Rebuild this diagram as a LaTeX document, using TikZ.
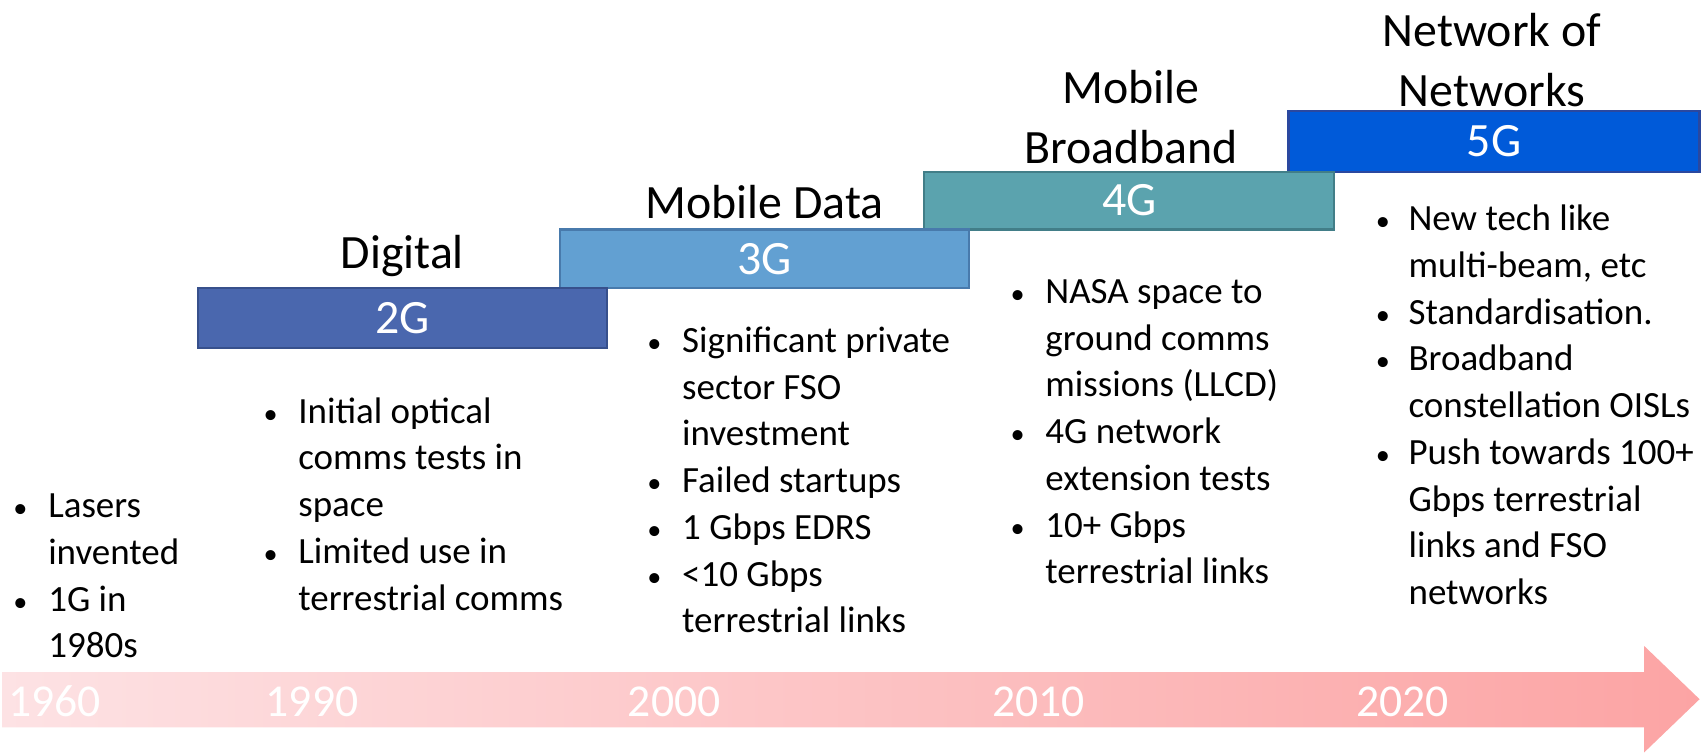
\documentclass[tikz,border=0pt]{standalone}
\usepackage{fontspec}
\setmainfont{Carlito}
\definecolor{c2g}{RGB}{74,103,174}
\definecolor{c2gd}{RGB}{55,80,140}
\definecolor{c3g}{RGB}{98,160,210}
\definecolor{c3gd}{RGB}{72,122,172}
\definecolor{c4g}{RGB}{91,163,174}
\definecolor{c4gd}{RGB}{66,126,136}
\definecolor{c5g}{RGB}{0,90,217}
\definecolor{c5gd}{RGB}{42,72,160}
\definecolor{arl}{RGB}{253,226,228}
\definecolor{arr}{RGB}{252,164,164}
\newcommand{\mybul}{{\fontsize{13}{13}\selectfont •}}
\begin{document}
\begin{tikzpicture}[x=0.5pt,y=-0.5pt,
  gbox/.style={draw, line width=1pt, text=white, inner sep=0pt,
    font=\fontsize{22}{26}\selectfont},
  head/.style={inner sep=0pt, anchor=base, font=\fontsize{22}{27.5}\selectfont},
  bul/.style={inner sep=0pt, anchor=base west, font=\fontsize{17}{21.5}\selectfont},
  year/.style={inner sep=0pt, text=white, font=\fontsize{21}{25}\selectfont}]
\useasboundingbox (0,0) rectangle (1568,692);
% timeline arrow
\shade[left color=arl, right color=arr]
  (2,618) -- (1512,618) -- (1512,594) -- (1563,643) -- (1512,692) -- (1512,669) -- (2,669) -- cycle;
\node[year] (y1960) at (50,645) {1960};
\node[year] (y1990) at (287,645) {1990};
\node[year] (y2000) at (620,645) {2000};
\node[year] (y2010) at (955,645) {2010};
\node[year] (y2020) at (1290,645) {2020};
% generation boxes
\node[gbox, fill=c5g, draw=c5gd, minimum width=189pt, minimum height=28pt] (g5) at (1374,130) {5G};
\node[gbox, fill=c4g, draw=c4gd, minimum width=188.5pt, minimum height=26.5pt] (g4) at (1038.5,184.5) {4G};
\node[gbox, fill=c3g, draw=c3gd, minimum width=188pt, minimum height=27pt] (g3) at (703,238) {3G};
\node[gbox, fill=c2g, draw=c2gd, minimum width=188pt, minimum height=27.5pt] (g2) at (370,292.5) {2G};
% headings
\node[head] (h2) at (370,247) {Digital};
\node[head] (h3) at (703,201) {Mobile Data};
\node[head] (h4) at (1040,95) {\begin{tabular}[t]{@{}c@{}}Mobile\\Broadband\end{tabular}};
\node[head] (h5) at (1372,43) {\begin{tabular}[t]{@{}c@{}}Network of\\Networks\end{tabular}};
% bullet lists
\node[bul] (b1) at (12,476) {\begin{tabular}[t]{@{}p{16pt}@{}l@{}}
  \mybul& Lasers\\ & invented\\ \mybul& 1G in\\ & 1980s\end{tabular}};
\node[bul] (b2) at (242,389) {\begin{tabular}[t]{@{}p{16pt}@{}l@{}}
  \mybul& Initial optical\\ & comms tests in\\ & space\\ \mybul& Limited use in\\ & terrestrial comms\end{tabular}};
\node[bul] (b3) at (595,324) {\begin{tabular}[t]{@{}p{16pt}@{}l@{}}
  \mybul& Significant private\\ & sector FSO\\ & investment\\ \mybul& Failed startups\\ \mybul& 1 Gbps EDRS\\ \mybul& <10 Gbps\\ & terrestrial links\end{tabular}};
\node[bul] (b4) at (929,279) {\begin{tabular}[t]{@{}p{16pt}@{}l@{}}
  \mybul& NASA space to\\ & ground comms\\ & missions (LLCD)\\ \mybul& 4G network\\ & extension tests\\ \mybul& 10+ Gbps\\ & terrestrial links\end{tabular}};
\node[bul] (b5) at (1265,212) {\begin{tabular}[t]{@{}p{15pt}@{}l@{}}
  \mybul& New tech like\\ & multi-beam, etc\\ \mybul& Standardisation.\\ \mybul& Broadband\\ & constellation OISLs\\ \mybul& Push towards 100+\\ & Gbps terrestrial\\ & links and FSO\\ & networks\end{tabular}};
\end{tikzpicture}
\end{document}
